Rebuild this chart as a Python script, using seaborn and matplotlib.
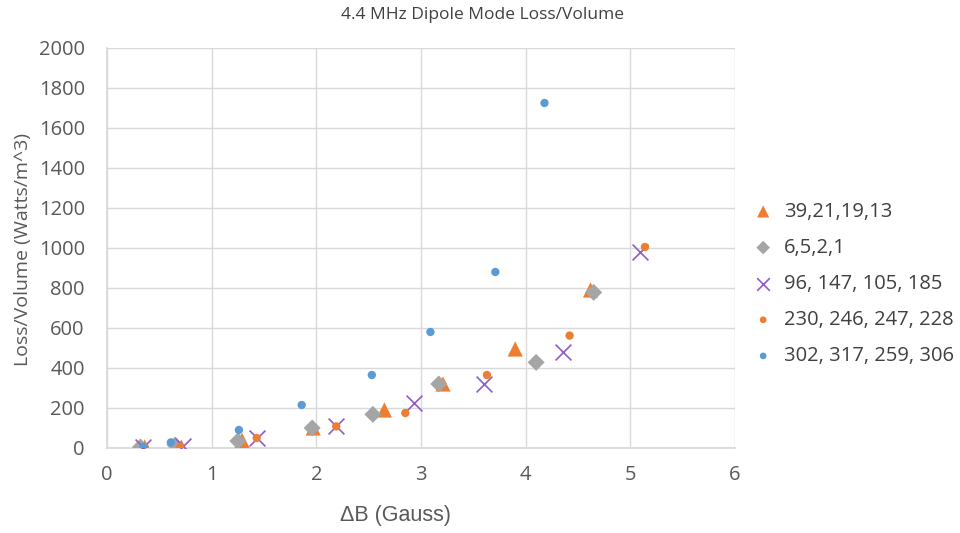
import matplotlib
matplotlib.use("Agg")
import matplotlib.pyplot as plt
import seaborn as sns
import pandas as pd

# Data
s1_name = "39,21,19,13"
s1_x = [0.36, 0.71, 1.29, 1.97, 2.65, 3.21, 3.90, 4.62]
s1_y = [5, 5, 38, 100, 190, 320, 495, 790]

s2_name = "6,5,2,1"
s2_x = [0.32, 0.65, 1.25, 1.96, 2.54, 3.17, 4.10, 4.65]
s2_y = [5, 15, 35, 100, 168, 320, 428, 778]

s3_name = "96, 147, 105, 185"
s3_x = [0.34, 0.73, 1.43, 2.19, 2.93, 3.60, 4.36, 5.09]
s3_y = [5, 8, 48, 108, 225, 320, 478, 980]

s4_name = "230, 246, 247, 228"
s4_x = [0.36, 0.70, 1.43, 2.19, 2.85, 3.63, 4.42, 5.14]
s4_y = [5, 5, 50, 108, 175, 365, 562, 1005]

s5_name = "302, 317, 259, 306"
s5_x = [0.35, 0.61, 1.26, 1.86, 2.53, 3.09, 3.71, 4.18]
s5_y = [5, 28, 90, 215, 365, 580, 880, 1725]

x_ticks = [0, 1, 2, 3, 4, 5, 6]
y_ticks = [0, 200, 400, 600, 800, 1000, 1200, 1400, 1600, 1800, 2000]

sns.set_theme(style="white")
plt.rcParams['font.family'] = ['Open Sans', 'DejaVu Sans']

fig = plt.figure(figsize=(9.6, 5.33), dpi=100)
ax = fig.add_axes([0.1115, 0.1595, 0.6541, 0.7505])

series = [
    (s1_name, s1_x, s1_y, "^", "#ED7D31", 120, None),
    (s2_name, s2_x, s2_y, "D", "#A5A5A5", 75, None),
    (s3_name, s3_x, s3_y, "x", "#8E5CC7", 130, 1.2),
    (s4_name, s4_x, s4_y, "o", "#ED7D31", 36, None),
    (s5_name, s5_x, s5_y, "o", "#5B9BD5", 36, None),
]

for name, xs, ys, mk, col, size, lw in series:
    df = pd.DataFrame({"x": xs, "y": ys})
    kw = dict(marker=mk, color=col, s=size, label=name, zorder=3)
    if mk == "x":
        kw["linewidth"] = lw
    else:
        kw["edgecolor"] = "none"
    sns.scatterplot(data=df, x="x", y="y", ax=ax, **kw)

ax.set_xlim(0, 6)
ax.set_ylim(0, 2000)
ax.set_xticks(x_ticks)
ax.set_yticks(y_ticks)
ax.grid(True, color="#D9D9D9", linewidth=1)
ax.set_axisbelow(True)
for side in ["top", "right"]:
    ax.spines[side].set_visible(False)
ax.spines["left"].set_color("#D9D9D9")
ax.spines["bottom"].set_color("#D9D9D9")
ax.tick_params(axis="both", colors="#595959", labelsize=14.5, length=0)
ax.tick_params(axis="y", pad=16)
ax.tick_params(axis="x", pad=12)

ax.set_xlabel("ΔB (Gauss)", fontsize=15.5, color="#595959",
              family=["Liberation Sans", "DejaVu Sans"])
ax.xaxis.set_label_coords(0.46, -0.143)
ax.set_ylabel("Loss/Volume (Watts/m^3)", fontsize=14, color="#595959")
ax.yaxis.set_label_coords(-0.12, 0.495)
fig.text(0.503, 0.972, "4.4 MHz Dipole Mode Loss/Volume", ha="center", va="center",
         fontsize=12.5, color="#404040")

leg = ax.legend(loc="center left", bbox_to_anchor=(1.0, 0.41), frameon=False,
                fontsize=14.5, handletextpad=0.05, labelspacing=0.8, markerscale=0.8,
                borderaxespad=0)
for t in leg.get_texts():
    t.set_color("#404040")

fig.savefig("out.png", dpi=100)
